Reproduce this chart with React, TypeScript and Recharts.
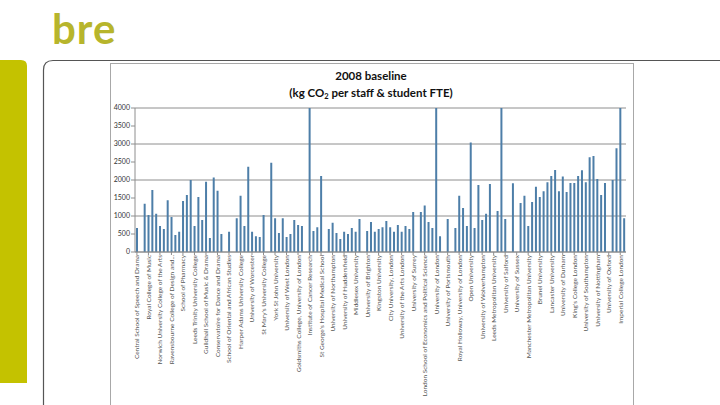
import React from 'react';
import { BarChart, Bar, XAxis, YAxis, CartesianGrid } from 'recharts';

// every third bar carries a label (Excel showed one label per three categories)
const labels = [
  'Central School of Speech and Drama',
  'Royal College of Music',
  'Norwich University College of the Arts',
  'Ravensbourne College of Design and...',
  'School of Pharmacy',
  'Leeds Trinity University College',
  'Guildhall School of Music & Drama',
  'Conservatoire for Dance and Drama',
  'School of Oriental and African Studies',
  'Harper Adams University College',
  'University of Worcester',
  "St Mary's University College",
  'York St John University',
  'University of West London',
  'Goldsmiths College, University of London',
  'Institute of Cancer Research',
  "St George's Hospital Medical School",
  'University of Northampton',
  'University of Huddersfield',
  'Middlesex University',
  'University of Brighton',
  'Kingston University',
  'City University, London',
  'University of the Arts London',
  'University of Surrey',
  'London School of Economics and Political Science',
  'University of London',
  'University of Portsmouth',
  'Royal Holloway, University of London',
  'Open University',
  'University of Wolverhampton',
  'Leeds Metropolitan University',
  'University of Salford',
  'University of Sussex',
  'Manchester Metropolitan University',
  'Brunel University',
  'Lancaster University',
  'University of Durham',
  "King's College London",
  'University of Southampton',
  'University of Nottingham',
  'University of Oxford',
  'Imperial College London',
];

// kg CO2 per staff & student FTE, 2008 baseline (bars above 4000 are cut at the top)
const values = [
  670, 0, 1340, 1030, 1720, 1060, 720, 640, 1440, 970,
  470, 560, 1420, 1580, 2000, 720, 1530, 890, 1950, 390,
  2070, 1700, 500, 0, 560, 0, 940, 1560, 720, 2370,
  560, 440, 420, 1030, 0, 2480, 940, 530, 940, 420,
  500, 890, 750, 720, 0, 4000, 580, 690, 2110, 0,
  640, 810, 530, 360, 560, 500, 670, 560, 920, 0,
  580, 830, 560, 640, 690, 860, 690, 560, 750, 560,
  720, 640, 1110, 0, 1110, 1290, 830, 670, 4000, 440,
  0, 920, 0, 670, 1560, 1220, 720, 3040, 670, 1860,
  890, 1060, 1890, 0, 1140, 4000, 920, 0, 1910, 0,
  1360, 1560, 720, 1390, 1810, 1530, 1690, 1940, 2110, 2280,
  1690, 2100, 1670, 1920, 1920, 2110, 2270, 1940, 2630, 2670,
  2030, 1580, 1920, 0, 2000, 2880, 4000, 940,
];

const yTicks = [0, 500, 1000, 1500, 2000, 2500, 3000, 3500, 4000];

const data = values.map((v, i) => ({
  idx: i,
  name: i % 3 === 0 ? labels[i / 3] ?? '' : '',
  value: v,
}));

const FONT = 'Lato, "Open Sans", sans-serif';

function XTick(props: any) {
  const { x, y, payload } = props;
  const label = data[payload.value]?.name ?? '';
  return (
    <text
      x={x}
      y={y - 2}
      transform={`rotate(-90 ${x} ${y - 2})`}
      textAnchor="end"
      dominantBaseline="central"
      fontSize={6.5}
      fontFamily={FONT}
      fill="#555"
    >
      {label}
    </text>
  );
}

export default function App() {
  return (
    <div
      style={{
        position: 'absolute',
        left: 0,
        top: 0,
        width: 720,
        height: 405,
        overflow: 'hidden',
        background: '#fff',
      }}
    >
      <svg width={720} height={405} style={{ position: 'absolute', left: 0, top: 0 }}>
        <text x={52} y={44} fontFamily={FONT} fontWeight={700} fontSize={42} fill="#b7b52c" letterSpacing={1}>
          bre
        </text>
        <path d="M0 60 H21 Q27 60 27 66 V383 H0 Z" fill="#c4c200" />
        <path d="M43.5 405 V70 Q43.5 60.5 53 60.5 H720" fill="none" stroke="#555" strokeWidth={1.2} />
        <rect x={110.5} y={63.5} width={523} height={360} fill="none" stroke="#a8a8a8" />
        <text x={371} y={80} textAnchor="middle" fontFamily={FONT} fontWeight={700} fontSize={11.5} fill="#111">
          2008 baseline
        </text>
        <text x={371} y={97} textAnchor="middle" fontFamily={FONT} fontWeight={700} fontSize={11.5} fill="#111">
          <tspan>(kg CO</tspan>
          <tspan fontSize={7.5} dy={2}>2</tspan>
          <tspan dy={-2}> per staff &amp; student FTE)</tspan>
        </text>
      </svg>
      <div style={{ position: 'absolute', left: 110, top: 63 }}>
        <BarChart
          width={523}
          height={342}
          data={data}
          margin={{ top: 45, right: 7, left: 0, bottom: 0 }}
        >
          <CartesianGrid vertical={false} stroke="#8e8e8e" />
          <XAxis
            dataKey="idx"
            type="category"
            interval={2}
            height={153}
            tickSize={3}
            stroke="#8e8e8e"
            tick={<XTick />}
          />
          <YAxis
            width={25}
            domain={[0, 4000]}
            ticks={yTicks}
            allowDataOverflow
            tickSize={4}
            tickMargin={1}
            stroke="#8e8e8e"
            tick={{ fontSize: 7, fontFamily: FONT, fill: '#333' }}
          />
          <Bar dataKey="value" fill="#4d7ea8" barSize={2} isAnimationActive={false} />
        </BarChart>
      </div>
    </div>
  );
}
